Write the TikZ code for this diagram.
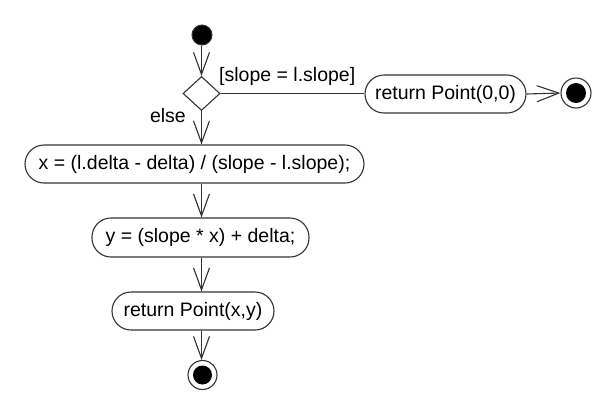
\documentclass[tikz,border=0pt]{standalone}
\usepackage{fontspec}
\setmainfont{Liberation Sans}
\usetikzlibrary{arrows.meta,shapes.geometric}
\begin{document}
\begin{tikzpicture}[x=1pt,y=-1pt,
  ln/.style={draw=black!80,line width=1.1pt},
  flow/.style={ln,-{Straight Barb[length=22pt,width=16pt,line width=1.1pt]}},
  act/.style={ln,rectangle,rounded corners=19pt,inner sep=0pt,fill=white,
     font=\fontsize{19.5}{22}\selectfont},
  lbl/.style={inner sep=0pt,font=\fontsize{19.5}{22}\selectfont,text=black}]
\useasboundingbox (0,0) rectangle (606,400);
\coordinate (col) at (201.5,0);
\node[circle,fill=black,draw=black!80,line width=1pt,minimum size=20pt,inner sep=0pt] (start) at (202,35) {};
\node[ln,diamond,minimum width=37pt,minimum height=34pt,inner sep=0pt,aspect=1] (dec) at (201.5,93.5) {};
\node[act,minimum width=161pt,minimum height=38pt] (ret0) at (445.5,94) {return Point(0,0)};
\node[act,minimum width=339pt,minimum height=38pt] (bx) at (194.5,164) {x = (l.delta - delta) / (slope - l.slope);};
\node[act,minimum width=217pt,minimum height=39pt] (by) at (200.5,237.5) {y = (slope * x) + delta;};
\node[act,minimum width=162pt,minimum height=38pt] (bret) at (193,311) {return Point(x,y)};
\node[circle,draw=black!80,line width=1.1pt,minimum size=30pt,inner sep=0pt] (endR) at (576,93) {};
\node[circle,fill=black,minimum size=20pt,inner sep=0pt] (endRin) at (endR.center) {};
\node[circle,draw=black!80,line width=1.1pt,minimum size=29pt,inner sep=0pt] (endB) at (202.5,375) {};
\node[circle,fill=black,minimum size=19pt,inner sep=0pt] (endBin) at (endB.center) {};
\node[lbl,anchor=west] (guard) at (219,76) {[slope = l.slope]};
\node[lbl,anchor=east] (else) at (186,116) {else};
\draw[flow] (start.south -| col) -- (dec.north);
\draw[ln] (dec.east) -- (dec.east -| ret0.west);
\draw[flow] (ret0.east) -- (endR.west);
\draw[flow] (dec.south) -- (bx.north -| col);
\draw[flow] (bx.south -| col) -- (by.north -| col);
\draw[flow] (by.south -| col) -- (bret.north -| col);
\draw[flow] (bret.south -| col) -- (endB.north -| col);
\end{tikzpicture}
\end{document}
